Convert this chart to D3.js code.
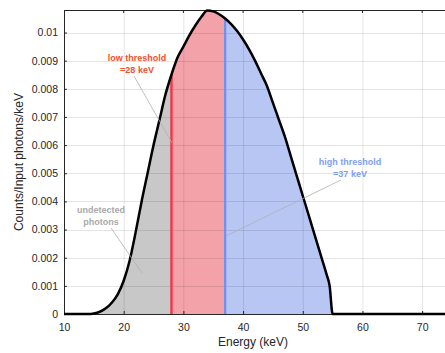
<!DOCTYPE html>
<html lang="en">
<head>
<meta charset="utf-8">
<title>Detected spectrum</title>
<script src="https://cdn.jsdelivr.net/npm/d3@7"></script>
<style>
  body { margin: 0; background: #fff; }
  svg { display: block; font-family: "Liberation Sans", Arial, sans-serif; }
</style>
</head>
<body>
<script>
// energies (keV) and counts per input photon per keV
var energy = [10, 11, 12, 13, 14, 15, 16, 17, 18, 19, 20, 21, 22, 23, 24, 25, 26, 27, 28, 29,
              30, 31, 32, 33, 34, 35, 36, 37, 38, 39, 40, 41, 42, 43, 44, 45, 46, 47, 48, 49,
              50, 51, 52, 53, 54, 54.5, 55, 60, 65, 70, 75];
var counts = [0, 0, 0, 0, 0, 0.00002, 0.00008, 0.0002, 0.0004, 0.0007, 0.00118, 0.0019, 0.0029, 0.0040, 0.0050, 0.0060, 0.0069, 0.0078, 0.0085, 0.0091,
              0.0095, 0.0099, 0.01025, 0.01055, 0.01078, 0.01075, 0.01065, 0.0105, 0.0103, 0.01005, 0.00975, 0.0094, 0.0090, 0.00855, 0.0081, 0.0075, 0.0069, 0.0063, 0.0056, 0.0049,
              0.0042, 0.0035, 0.0028, 0.0021, 0.0014, 0.0010, 0, 0, 0, 0, 0];
var xTicks = [10, 20, 30, 40, 50, 60, 70];
var yTicks = [0, 0.001, 0.002, 0.003, 0.004, 0.005, 0.006, 0.007, 0.008, 0.009, 0.01];
var lowThreshold = 28, highThreshold = 37, cutoff = 55;

var w = 445, h = 353;
var x = d3.scaleLinear().domain([10, 75]).range([64, 452]);
var y = d3.scaleLinear().domain([0, 0.0108]).range([314, 10]);

var data = energy.map(function(e, i) { return {e: e, c: counts[i]}; });

var svg = d3.select("body").append("svg").attr("width", w).attr("height", h);

var area = d3.area().x(function(d) { return x(d.e); })
    .y0(y(0)).y1(function(d) { return y(d.c); }).curve(d3.curveMonotoneX);
var line = d3.line().x(function(d) { return x(d.e); })
    .y(function(d) { return y(d.c); }).curve(d3.curveMonotoneX);

// filled bands
var bands = [
  {from: 10, to: lowThreshold, fill: "#c8c8c8"},
  {from: lowThreshold, to: highThreshold, fill: "#f4a2aa"},
  {from: highThreshold, to: cutoff, fill: "#b8c6f4"}
];
svg.selectAll("path.band").data(bands).enter().append("path")
  .attr("class", "band")
  .attr("fill", function(b) { return b.fill; })
  .attr("d", function(b) {
    return area(data.filter(function(d) { return d.e >= b.from && d.e <= b.to; }));
  });

// grid (drawn over the fills, like the original)
var grid = svg.append("g").attr("stroke", "#000").attr("stroke-opacity", 0.1).attr("stroke-width", 1);
grid.selectAll("line.gx").data(xTicks.slice(1)).enter().append("line")
  .attr("x1", function(d) { return x(d) + 0.5; }).attr("x2", function(d) { return x(d) + 0.5; })
  .attr("y1", y.range()[1]).attr("y2", y(0));
grid.selectAll("line.gy").data(yTicks.slice(1)).enter().append("line")
  .attr("y1", function(d) { return Math.round(y(d)) + 0.5; }).attr("y2", function(d) { return Math.round(y(d)) + 0.5; })
  .attr("x1", x(10)).attr("x2", w);

// axes: bottom & left with inward ticks, plus top border
var xAxis = d3.axisBottom(x).tickValues(xTicks).tickSize(-3).tickPadding(10).tickFormat(d3.format("d"));
var yAxis = d3.axisLeft(y).tickValues(yTicks).tickSize(-3).tickPadding(6).tickFormat(function(d) { return d === 0 ? "0" : d3.format("")(+d.toFixed(3)); });

var gx = svg.append("g").attr("transform", "translate(0," + y(0) + ")").call(xAxis);
var gy = svg.append("g").attr("transform", "translate(" + x(10) + ",0)").call(yAxis);
[gx, gy].forEach(function(g) {
  g.select(".domain").attr("stroke", "#262626");
  g.selectAll(".tick line").attr("stroke", "#262626");
  g.selectAll("text").attr("fill", "#262626").style("font-size", "10.5px").style("font-family", "Liberation Sans, Arial, sans-serif");
});
svg.append("line").attr("x1", x(10)).attr("x2", w).attr("y1", y.range()[1] + 0.5).attr("y2", y.range()[1] + 0.5)
  .attr("stroke", "#262626");
svg.selectAll("line.tt").data(xTicks.slice(1)).enter().append("line")
  .attr("x1", function(d) { return x(d); }).attr("x2", function(d) { return x(d); })
  .attr("y1", y.range()[1]).attr("y2", y.range()[1] + 3).attr("stroke", "#262626");

// threshold lines
svg.append("line").attr("x1", x(lowThreshold)).attr("x2", x(lowThreshold))
  .attr("y1", y(0)).attr("y2", y(counts[energy.indexOf(lowThreshold)]))
  .attr("stroke", "#f03a4a").attr("stroke-width", 2.5);
svg.append("line").attr("x1", x(highThreshold)).attr("x2", x(highThreshold))
  .attr("y1", y(0)).attr("y2", y(counts[energy.indexOf(highThreshold)]))
  .attr("stroke", "#6d90f2").attr("stroke-width", 2.2);

// spectrum
svg.append("path").datum(data).attr("d", line)
  .attr("fill", "none").attr("stroke", "#000").attr("stroke-width", 2.5);

// annotations
var notes = [
  {lines: ["low threshold", "=28 keV"], cx: 137, cy: 58, color: "#f2502e", from: [134, 76], to: [172, 143]},
  {lines: ["undetected", "photons"], cx: 101, cy: 210, color: "#a9a9a9", from: [111, 228], to: [142, 273]},
  {lines: ["high threshold", "=37 keV"], cx: 350, cy: 162, color: "#7f9ff0", from: [341, 180], to: [226, 236]}
];
notes.forEach(function(n) {
  svg.append("line").attr("x1", n.from[0]).attr("y1", n.from[1]).attr("x2", n.to[0]).attr("y2", n.to[1])
    .attr("stroke", "#b0b0b0").attr("stroke-width", 0.8);
  var t = svg.append("text").attr("text-anchor", "middle").attr("fill", n.color)
    .style("font-size", "9px").style("font-weight", "bold");
  n.lines.forEach(function(s, i) {
    t.append("tspan").attr("x", n.cx).attr("y", n.cy + 3 + i * 12).text(s);
  });
});

// axis labels
svg.append("text").attr("x", 253).attr("y", 346).attr("text-anchor", "middle")
  .attr("fill", "#262626").style("font-size", "12px").text("Energy (keV)");
svg.append("text").attr("transform", "translate(23,162) rotate(-90)").attr("text-anchor", "middle")
  .attr("fill", "#262626").style("font-size", "12px").text("Counts/Input photons/keV");
</script>
</body>
</html>
